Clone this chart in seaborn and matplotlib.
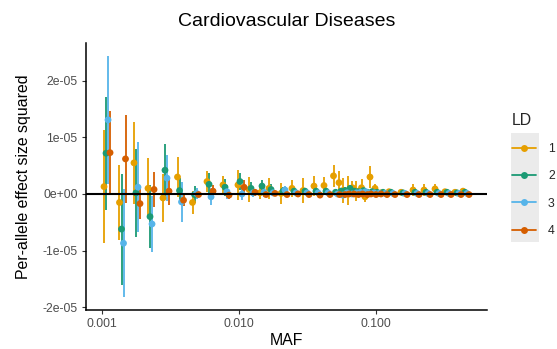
import numpy as np
import pandas as pd
import matplotlib
matplotlib.use("Agg")
import matplotlib.pyplot as plt
from matplotlib.lines import Line2D
from matplotlib.patches import Rectangle
import seaborn as sns

# ---------------- data (effect values in units of 1e-05) ----------------
maf_bins = [0.001088, 0.001411, 0.001800, 0.002279, 0.002931, 0.003741, 0.004814,
            0.006143, 0.008038, 0.01034, 0.01244, 0.01497, 0.01741, 0.02130,
            0.02563, 0.03084, 0.03709, 0.04388, 0.05149, 0.05646, 0.06039,
            0.06569, 0.07085, 0.07577, 0.08243, 0.08742, 0.09508, 0.1034,
            0.1144, 0.1308, 0.1601, 0.1959, 0.2357, 0.2836, 0.3353, 0.3966, 0.4538]

ld_levels = ["1", "2", "3", "4"]

beta_ld1 = [0.13, -0.15, 0.55, 0.10, -0.07, 0.30, -0.15, 0.22, 0.16, 0.16, 0.08, 0.02,
            0.10, 0.01, 0.10, 0.06, 0.14, 0.15, 0.32, 0.20, 0.06, 0.06, 0.11, 0.05,
            0.11, -0.05, 0.30, 0.10, 0.02, 0.04, 0.03, 0.07, 0.07, 0.09, 0.04, 0.03, 0.05]
err_ld1 = [1.00, 0.66, 0.73, 0.53, 0.42, 0.36, 0.20, 0.19, 0.15, 0.26, 0.22, 0.10,
           0.19, 0.18, 0.15, 0.22, 0.18, 0.15, 0.20, 0.20, 0.22, 0.25, 0.12, 0.18,
           0.15, 0.10, 0.19, 0.07, 0.05, 0.05, 0.04, 0.10, 0.10, 0.08, 0.05, 0.04, 0.05]

beta_ld2 = [0.72, -0.62, 0.02, -0.40, 0.42, 0.06, -0.01, 0.17, 0.12, 0.22, 0.10, 0.14,
            0.08, 0.05, 0.05, 0.05, 0.05, 0.05, 0.03, 0.05, 0.06, 0.10, 0.05, 0.04,
            0.06, 0.03, 0.04, 0.03, 0.03, 0.03, 0.02, 0.03, 0.03, 0.03, 0.03, 0.02, 0.03]
err_ld2 = [1.00, 0.98, 0.78, 0.56, 0.46, 0.22, 0.15, 0.20, 0.15, 0.15, 0.12, 0.10,
           0.10, 0.08, 0.06, 0.06, 0.05, 0.05, 0.05, 0.05, 0.06, 0.05, 0.05, 0.05,
           0.05, 0.04, 0.04, 0.04, 0.03, 0.03, 0.03, 0.03, 0.03, 0.03, 0.03, 0.03, 0.03]

beta_ld3 = [1.31, -0.87, 0.12, -0.53, 0.28, -0.14, 0.01, -0.05, 0.04, 0.00, 0.02, 0.03,
            0.02, 0.07, 0.02, 0.02, 0.02, 0.02, 0.00, -0.02, 0.02, 0.00, 0.02, 0.03,
            0.04, 0.01, 0.02, 0.01, 0.01, 0.01, 0.01, 0.01, 0.01, 0.01, 0.01, 0.01, 0.01]
err_ld3 = [1.13, 0.95, 0.80, 0.50, 0.41, 0.35, 0.10, 0.15, 0.12, 0.10, 0.08, 0.08,
           0.06, 0.07, 0.05, 0.04, 0.04, 0.03, 0.03, 0.04, 0.03, 0.03, 0.03, 0.03,
           0.03, 0.02, 0.02, 0.02, 0.02, 0.02, 0.02, 0.02, 0.02, 0.02, 0.02, 0.02, 0.02]

beta_ld4 = [0.73, 0.62, -0.17, 0.08, 0.05, -0.11, -0.01, 0.05, -0.02, 0.12, 0.03, -0.01,
            0.01, -0.01, 0.00, -0.01, -0.02, -0.01, -0.01, -0.01, 0.00, 0.00, -0.01, 0.00,
            -0.01, 0.00, -0.01, 0.00, -0.01, -0.01, -0.01, -0.01, -0.01, -0.01, -0.01, -0.01, -0.01]
err_ld4 = [0.74, 0.78, 0.27, 0.31, 0.25, 0.10, 0.05, 0.10, 0.06, 0.12, 0.06, 0.05,
           0.04, 0.04, 0.03, 0.03, 0.03, 0.03, 0.02, 0.02, 0.02, 0.02, 0.02, 0.02,
           0.02, 0.02, 0.02, 0.02, 0.02, 0.02, 0.02, 0.02, 0.02, 0.02, 0.02, 0.02, 0.02]

y_ticks = [-2e-05, -1e-05, 0.0, 1e-05, 2e-05]
y_tick_labels = ["-2e-05", "-1e-05", "0e+00", "1e-05", "2e-05"]
x_ticks = [0.001, 0.01, 0.1]
x_tick_labels = ["0.001", "0.010", "0.100"]

# ---------------- build long table ----------------
palette = {"1": "#E69F00", "2": "#1B9A74", "3": "#56B4E9", "4": "#D55E00"}
betas = [beta_ld1, beta_ld2, beta_ld3, beta_ld4]
errs = [err_ld1, err_ld2, err_ld3, err_ld4]
dodge = [-0.022, -0.0073, 0.0073, 0.022]  # position dodge in log10 units

rows = []
for k, ld in enumerate(ld_levels):
    for m, b, e in zip(maf_bins, betas[k], errs[k]):
        rows.append({"MAF": m, "x": m * 10 ** dodge[k], "LD": ld,
                     "beta": b * 1e-5, "lo": (b - e) * 1e-5, "hi": (b + e) * 1e-5})
df = pd.DataFrame(rows)

# ---------------- plot ----------------
sns.set_theme(style="ticks")
plt.rcParams["font.family"] = ["Liberation Sans", "DejaVu Sans"]

fig = plt.figure(figsize=(5.57, 3.49), dpi=100)
ax = fig.add_axes([86 / 557, 1 - 310 / 349, (487 - 86) / 557, (310 - 43) / 349])

for ld in ld_levels:
    sub = df[df["LD"] == ld]
    ax.vlines(sub["x"], sub["lo"], sub["hi"], color=palette[ld], lw=1.3, zorder=2)

sns.scatterplot(data=df, x="x", y="beta", hue="LD", hue_order=ld_levels,
                palette=palette, s=24, linewidth=0, legend=False, ax=ax, zorder=3)

ax.axhline(0, color="black", lw=1.5, zorder=5)

ax.set_xscale("log")
ax.set_xlim(0.000764, 0.6458)
ax.set_ylim(-2.05e-05, 2.668e-05)
ax.set_xticks(x_ticks)
ax.set_xticklabels(x_tick_labels)
ax.xaxis.set_minor_locator(matplotlib.ticker.NullLocator())
ax.set_yticks(y_ticks)
ax.set_yticklabels(y_tick_labels)

for s in ["top", "right"]:
    ax.spines[s].set_visible(False)
for s in ["left", "bottom"]:
    ax.spines[s].set_color("black")
    ax.spines[s].set_linewidth(1.1)
ax.tick_params(axis="both", length=3, width=0.8, color="#333333",
               labelcolor="#4D4D4D", labelsize=8.8, pad=3)

ax.set_xlabel("MAF", fontsize=11.4, color="black", labelpad=2)
ax.set_ylabel("Per-allele effect size squared", fontsize=11.4, color="black", labelpad=8)
ax.set_title("Cardiovascular Diseases", fontsize=14, color="black", pad=12)

# legend
handles = [Line2D([], [], color=palette[ld], lw=1.3, marker="o", markersize=5,
                  markeredgewidth=0) for ld in ld_levels]
fig.patches.append(Rectangle((511 / 557, 1 - 242 / 349), 28 / 557, 109 / 349,
                             transform=fig.transFigure, facecolor="#EBEBEB",
                             edgecolor="none", zorder=0))
leg = fig.legend(handles, ld_levels, title="LD", loc="upper left",
                 bbox_to_anchor=(507 / 557, 1 - 108 / 349), frameon=False,
                 fontsize=8.8, title_fontsize=11.4, handlelength=2.0,
                 labelspacing=1.25, handletextpad=0.95, alignment="left",
                 borderaxespad=0)

fig.savefig("out.png", dpi=100)
